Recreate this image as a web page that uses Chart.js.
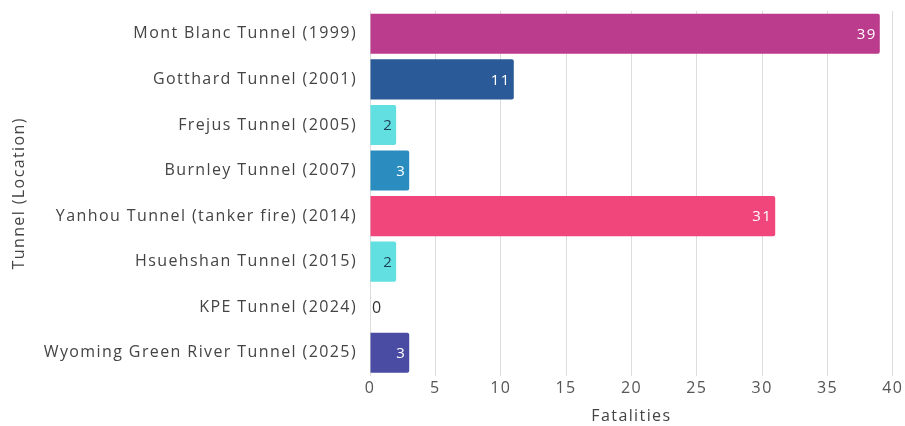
<!DOCTYPE html>
<html>
<head>
<meta charset="utf-8">
<script src="https://cdn.jsdelivr.net/npm/chart.js@4.4.1/dist/chart.umd.min.js"></script>
<style>
  html, body { margin: 0; padding: 0; background: #fff; }
  #wrap { width: 905px; height: 426px; position: relative; }
</style>
</head>
<body>
<div id="wrap"><canvas id="fatalChart"></canvas></div>
<script>
const tunnels = [
  "Mont Blanc Tunnel (1999)",
  "Gotthard Tunnel (2001)",
  "Frejus Tunnel (2005)",
  "Burnley Tunnel (2007)",
  "Yanhou Tunnel (tanker fire) (2014)",
  "Hsuehshan Tunnel (2015)",
  "KPE Tunnel (2024)",
  "Wyoming Green River Tunnel (2025)"
];
const fatalities = [39, 11, 2, 3, 31, 2, 0, 3];
const barColors = ["#bb3b8c", "#2a5b98", "#62dfe0", "#2b8cc0", "#f0467b", "#62dfe0", "#62dfe0", "#4a4ba2"];
const labelColors = ["#ffffff", "#ffffff", "#1f3f57", "#ffffff", "#ffffff", "#1f3f57", "#333333", "#ffffff"];
const xTicks = [0, 5, 10, 15, 20, 25, 30, 35, 40];

const FONT = "'Open Sans', sans-serif";

// wider tracking for every text drawn on the canvas
// (canvas resize resets the context, so set it before each draw)
const spacing = {
  id: "spacing",
  beforeDraw(chart) { chart.ctx.letterSpacing = "1.4px"; }
};

// writes the value at the end of each bar, inside it
const valueLabels = {
  id: "valueLabels",
  afterDatasetsDraw(chart) {
    const ctx = chart.ctx;
    const meta = chart.getDatasetMeta(0);
    ctx.save();
    ctx.font = "15px " + FONT;
    ctx.textBaseline = "middle";
    meta.data.forEach((bar, i) => {
      const txt = String(fatalities[i]);
      const w = ctx.measureText(txt).width;
      const left = bar.base;
      const right = bar.x;
      ctx.fillStyle = labelColors[i];
      if (right - left < 2) {
        ctx.font = "16px " + FONT;
        ctx.textAlign = "left";
        ctx.fillText(txt, left + 2, bar.y + 1);
        ctx.font = "15px " + FONT;
      } else if (right - left < w + 10) {
        ctx.textAlign = "center";
        ctx.fillText(txt, (left + right) / 2, bar.y + 1);
      } else {
        ctx.textAlign = "right";
        ctx.fillText(txt, right - 3, bar.y + 1);
      }
    });
    ctx.restore();
  }
};

new Chart(document.getElementById("fatalChart"), {
  type: "bar",
  data: {
    labels: tunnels,
    datasets: [{
      data: fatalities,
      backgroundColor: barColors,
      borderRadius: 2,
      borderSkipped: "start",
      barPercentage: 0.88,
      categoryPercentage: 1
    }]
  },
  options: {
    indexAxis: "y",
    responsive: true,
    maintainAspectRatio: false,
    animation: false,
    layout: { padding: { top: 11, right: 12, left: 0, bottom: 0 } },
    plugins: {
      legend: { display: false },
      tooltip: { enabled: false }
    },
    scales: {
      x: {
        min: 0,
        max: 40,
        afterBuildTicks(axis) {
          axis.ticks = xTicks.map(v => ({ value: v }));
        },
        ticks: { color: "#555", font: { family: FONT, size: 16 }, padding: 3 },
        grid: { color: "#dcdcdc", drawTicks: false },
        border: { display: false },
        title: {
          display: true,
          text: "Fatalities",
          color: "#444",
          font: { family: FONT, size: 16 },
          padding: { top: 6, bottom: 0 }
        }
      },
      y: {
        afterFit(scale) {
          scale.width = 370;
          scale.paddingTop = 0;
          scale.paddingBottom = 0;
        },
        ticks: { color: "#444", font: { family: FONT, size: 16 }, padding: 13 },
        grid: { display: false, drawTicks: false },
        border: { display: true, color: "#dcdcdc" },
        title: {
          display: true,
          text: "Tunnel (Location)",
          color: "#444",
          font: { family: FONT, size: 16 },
          padding: { top: 10, bottom: 0 }
        }
      }
    }
  },
  plugins: [spacing, valueLabels]
});
</script>
</body>
</html>
